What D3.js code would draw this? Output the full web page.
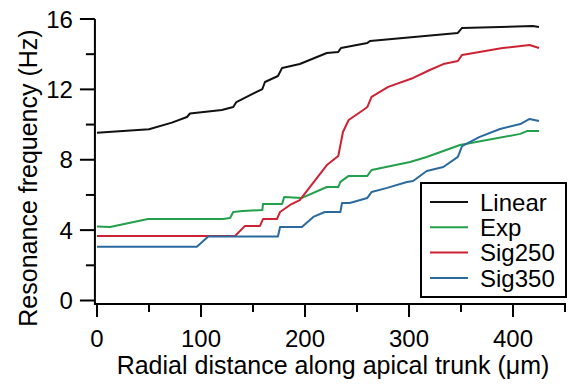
<!DOCTYPE html>
<html>
<head>
<meta charset="utf-8">
<script src="https://cdn.jsdelivr.net/npm/d3@7"></script>
<style>
  body { margin: 0; background: #fff; }
  text { font-family: "Liberation Sans", Arial, Helvetica, sans-serif; fill: #000; }
</style>
</head>
<body>
<svg id="chart" width="569" height="388"></svg>
<script>
// distance along trunk (um), resonance frequency (Hz)
const linearData = [
  [0, 9.54], [50, 9.73], [72, 10.11], [86.5, 10.43], [89.4, 10.63], [120, 10.83],
  [131, 11.0], [134, 11.28], [159, 12.02], [161.5, 12.42], [174, 12.76], [178, 13.22],
  [195, 13.44], [221, 14.07], [232, 14.13], [234.6, 14.35], [260, 14.64], [262.5, 14.75],
  [347, 15.21], [351, 15.49], [419, 15.6], [425, 15.55]
]
const expData = [
  [0, 4.2], [12.5, 4.18], [49, 4.63], [121, 4.63], [128, 4.69], [131, 5.03],
  [140, 5.09], [159, 5.14], [159.6, 5.49], [178, 5.49], [180, 5.88], [197, 5.83],
  [221, 6.45], [232, 6.45], [234, 6.74], [242, 7.08], [260, 7.08], [264, 7.42],
  [301, 7.87], [317, 8.16], [349, 8.84], [407, 9.47], [414, 9.64], [425, 9.64]
]
const sig250Data = [
  [0, 3.67], [132.7, 3.67], [142.3, 4.24], [156.7, 4.24], [159.6, 4.63], [173, 4.63],
  [176, 5.03], [185.6, 5.43], [195, 5.71], [221, 7.7], [232, 8.21], [236.5, 9.58],
  [242, 10.26], [256, 10.83], [260, 11.0], [264, 11.57], [280, 12.14], [304, 12.65],
  [320, 13.1], [333, 13.44], [347, 13.61], [351, 13.96], [390, 14.35], [416, 14.52],
  [425, 14.35]
]
const sig350Data = [
  [0, 3.06], [96, 3.06], [107, 3.64], [174, 3.64], [176, 4.18], [197, 4.18],
  [208, 4.75], [219, 5.03], [234, 5.03], [235.6, 5.54], [243, 5.54], [260, 5.83],
  [264, 6.17], [279, 6.4], [298, 6.74], [304, 6.79], [317, 7.36], [333, 7.59],
  [347, 8.16], [351, 8.78], [368, 9.3], [387.5, 9.75], [407, 10.03], [416, 10.32],
  [425, 10.2]
]

const seriesNames = ['Linear', 'Exp', 'Sig250', 'Sig350']
const seriesColors = ['#111111', '#22a04b', '#cc2233', '#2b6a9e']
const seriesData = [linearData, expData, sig250Data, sig350Data]

const xMajorTicks = [0, 100, 200, 300, 400]
const xMinorTicks = [50, 150, 250, 350, 450]
const yMajorTicks = [0, 4, 8, 12, 16]
const yMinorTicks = [2, 6, 10, 14]

const svg = d3.select('#chart')

const x = d3.scaleLinear().domain([0, 450]).range([97, 565])
const y = d3.scaleLinear().domain([0, 16]).range([300.5, 19])

const axisX = x(-2)   // where the y axis sits
const axisY = y(-0.2) // where the x axis sits

// x axis
const gx = svg.append('g').attr('transform', `translate(0,${axisY})`)
gx.append('line')
  .attr('x1', axisX).attr('x2', x(450) + 1)
  .attr('stroke', '#000').attr('stroke-width', 2)
gx.selectAll('line.major').data(xMajorTicks).join('line')
  .attr('class', 'major')
  .attr('x1', d => x(d)).attr('x2', d => x(d))
  .attr('y1', 0).attr('y2', 13)
  .attr('stroke', '#000').attr('stroke-width', 2)
gx.selectAll('line.minor').data(xMinorTicks).join('line')
  .attr('class', 'minor')
  .attr('x1', d => x(d)).attr('x2', d => x(d))
  .attr('y1', 0).attr('y2', 8)
  .attr('stroke', '#000').attr('stroke-width', 2)
gx.selectAll('text').data(xMajorTicks).join('text')
  .attr('x', d => x(d))
  .attr('y', 43)
  .attr('text-anchor', 'middle')
  .attr('font-size', '24px')
  .text(d => d)

// y axis
const gy = svg.append('g').attr('transform', `translate(${axisX},0)`)
gy.append('line')
  .attr('y1', y(16)).attr('y2', axisY + 1)
  .attr('stroke', '#000').attr('stroke-width', 2)
gy.selectAll('line.major').data(yMajorTicks).join('line')
  .attr('class', 'major')
  .attr('y1', d => y(d)).attr('y2', d => y(d))
  .attr('x1', 0).attr('x2', -15)
  .attr('stroke', '#000').attr('stroke-width', 2)
gy.selectAll('line.minor').data(yMinorTicks).join('line')
  .attr('class', 'minor')
  .attr('y1', d => y(d)).attr('y2', d => y(d))
  .attr('x1', 0).attr('x2', -9)
  .attr('stroke', '#000').attr('stroke-width', 2)
gy.selectAll('text').data(yMajorTicks).join('text')
  .attr('x', -22)
  .attr('y', d => y(d))
  .attr('dy', '0.36em')
  .attr('text-anchor', 'end')
  .attr('font-size', '24px')
  .text(d => d)

// axis titles
svg.append('text')
  .attr('x', 333).attr('y', 374)
  .attr('text-anchor', 'middle')
  .attr('font-size', '25px')
  .text('Radial distance along apical trunk (\u03bcm)')

svg.append('text')
  .attr('transform', 'translate(37,178) rotate(-90)')
  .attr('text-anchor', 'middle')
  .attr('font-size', '25px')
  .text('Resonance frequency (Hz)')

// curves
const line = d3.line().x(d => x(d[0])).y(d => y(d[1]))
svg.selectAll('path.curve').data(seriesData).join('path')
  .attr('class', 'curve')
  .attr('d', line)
  .attr('fill', 'none')
  .attr('stroke', (d, i) => seriesColors[i])
  .attr('stroke-width', 2)
  .attr('stroke-linejoin', 'round')

// legend
const legend = svg.append('g').attr('transform', 'translate(421,183)')
legend.append('rect')
  .attr('width', 145).attr('height', 114)
  .attr('fill', '#fff')
  .attr('stroke', '#000').attr('stroke-width', 2)
const rows = legend.selectAll('g.row').data(seriesNames).join('g')
  .attr('class', 'row')
  .attr('transform', (d, i) => `translate(0,${19 + i * 25.3})`)
rows.append('line')
  .attr('x1', 9).attr('x2', 47)
  .attr('stroke', (d, i) => seriesColors[i])
  .attr('stroke-width', 2)
rows.append('text')
  .attr('x', 59)
  .attr('dy', '0.36em')
  .attr('font-size', '24px')
  .text(d => d)
</script>
</body>
</html>
